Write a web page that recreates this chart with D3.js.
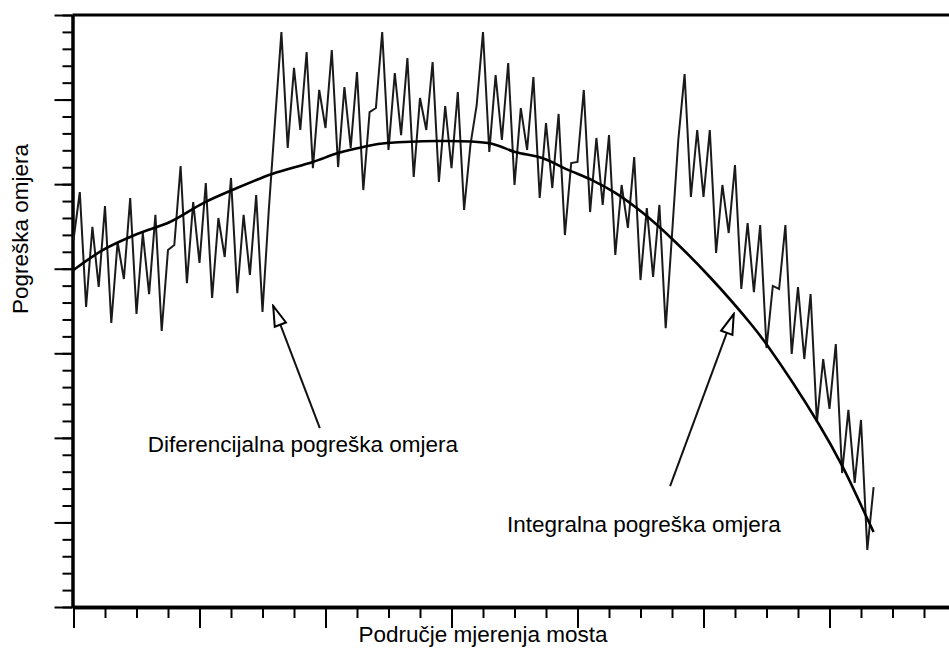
<!DOCTYPE html>
<html>
<head>
<meta charset="utf-8">
<script src="https://cdn.jsdelivr.net/npm/d3@7"></script>
<style>
  html, body { margin: 0; padding: 0; background: #fff; }
  svg { display: block; }
  text { font-family: "Liberation Sans", Arial, sans-serif; fill: #000; }
</style>
</head>
<body>
<svg id="chart" width="949" height="648"></svg>
<script>
// Differential ratio error (sample index 0..127)
const diffValues = [
  21.70, 24.53, 17.74, 22.47, 18.92, 23.71, 16.79, 21.58, 19.39, 24.18,
  17.32, 22.11, 18.50, 23.18, 16.32, 21.11, 21.40, 26.07, 19.15, 23.94,
  20.34, 25.07, 18.27, 23.00, 20.69, 25.36, 18.56, 23.18, 19.63, 24.36,
  17.44, 23.47, 28.79, 33.99, 27.14, 31.87, 28.20, 32.81, 25.95, 30.57,
  28.32, 32.93, 26.01, 30.74, 27.14, 31.63, 24.65, 29.26, 29.50, 33.99,
  27.02, 31.57, 27.90, 32.46, 25.42, 30.09, 28.20, 32.22, 25.13, 29.62,
  25.95, 30.45, 23.47, 27.31, 29.68, 33.99, 26.90, 31.45, 27.61, 32.16,
  24.95, 29.50, 27.02, 31.33, 24.18, 28.61, 24.77, 29.15, 21.99, 26.25,
  26.31, 30.57, 23.35, 27.73, 23.77, 27.90, 20.81, 24.95, 22.41, 26.60,
  19.33, 23.59, 19.51, 23.77, 16.49, 21.99, 27.61, 31.51, 24.24, 28.20,
  24.24, 28.20, 20.93, 24.95, 22.11, 26.13, 18.80, 22.70, 18.62, 22.58,
  15.31, 18.98, 18.80, 22.58, 14.96, 18.92, 14.66, 18.50, 10.94, 14.66,
  11.71, 15.55, 7.92, 11.65, 7.33, 11.06, 3.37, 7.09
];

// Integral ratio error (smooth curve)
const integX = [0, 4.7, 10.1, 15.3, 20.6, 25.2, 31.5, 38.0, 42.0, 46.0, 49.8, 65.8,
                70.1, 74.4, 78.5, 82.3, 86.0, 90.4, 95.2, 101.0, 107.4, 110.2,
                118.2, 122.1, 126.1, 127.0];
const integY = [19.92, 21.11, 22.05, 22.76, 23.88, 24.65, 25.60, 26.31, 26.84, 27.20,
                27.43, 27.43, 26.90, 26.54, 25.84, 25.24, 24.48, 23.29, 21.70, 19.51,
                16.79, 15.43, 10.88, 8.28, 5.14, 4.43];

const xLabel = "Područje mjerenja mosta";
const yLabel = "Pogreška omjera";
const annoTexts = ["Diferencijalna pogreška omjera", "Integralna pogreška omjera"];
const annoTextX = [11.8, 68.8];
const annoTextY = [9.16, 4.43];
const arrowFromX = [39.1, 94.7];
const arrowFromY = [10.58, 7.15];
const arrowToX = [31.7, 104.8];
const arrowToY = [17.80, 17.32];

const xMinorTicks = d3.range(0, 141, 5);
const xMajorTicks = d3.range(0, 141, 20);
const yMinorTicks = d3.range(0, 36, 1);
const yMajorTicks = d3.range(0, 36, 5);

const svg = d3.select("#chart");
const x = d3.scaleLinear().domain([0, 140]).range([73.5, 73.5 + 140 * 6.3]);
const y = d3.scaleLinear().domain([0, 35]).range([607, 15]);

// marker
const defs = svg.append("defs");
defs.append("marker")
  .attr("id", "openArrow")
  .attr("markerUnits", "userSpaceOnUse")
  .attr("viewBox", "-2 -8 24 16")
  .attr("markerWidth", 24).attr("markerHeight", 16)
  .attr("refX", 20).attr("refY", 0)
  .attr("orient", "auto")
  .append("path")
  .attr("d", "M0,-6 L20,0 L0,6 Z")
  .attr("fill", "#fff").attr("stroke", "#000").attr("stroke-width", 2)
  .attr("stroke-linejoin", "miter");

// top frame line
svg.append("line")
  .attr("x1", x(0) - 1).attr("x2", 949)
  .attr("y1", y(35)).attr("y2", y(35))
  .attr("stroke", "#000").attr("stroke-width", 3);

// axes
function styleAxis(g, w) {
  g.selectAll(".domain").attr("stroke", "#000").attr("stroke-width", w);
  g.selectAll(".tick line").attr("stroke", "#000").attr("stroke-width", 2);
  g.selectAll(".tick text").remove();
}
const gyMinor = svg.append("g").attr("transform", `translate(${x(0) - 1},0)`)
  .call(d3.axisLeft(y).tickValues(yMinorTicks).tickSize(10).tickSizeOuter(0).tickFormat(""));
styleAxis(gyMinor, 3);
const gyMajor = svg.append("g").attr("transform", `translate(${x(0) - 1},0)`)
  .call(d3.axisLeft(y).tickValues(yMajorTicks).tickSize(18).tickSizeOuter(0).tickFormat(""));
styleAxis(gyMajor, 3);
const gxMinor = svg.append("g").attr("transform", `translate(0,${y(0)})`)
  .call(d3.axisBottom(x).tickValues(xMinorTicks).tickSize(11).tickSizeOuter(0).tickFormat(""));
styleAxis(gxMinor, 3.5);
const gxMajor = svg.append("g").attr("transform", `translate(0,${y(0)})`)
  .call(d3.axisBottom(x).tickValues(xMajorTicks).tickSize(21).tickSizeOuter(0).tickFormat(""));
styleAxis(gxMajor, 3.5);

// differential line
svg.append("path")
  .datum(diffValues)
  .attr("fill", "none").attr("stroke", "#1a1a1a").attr("stroke-width", 2)
  .attr("stroke-linejoin", "miter")
  .attr("d", d3.line().x((d, i) => x(i)).y(d => y(d)));

// integral curve
svg.append("path")
  .datum(integX.map((v, i) => [v, integY[i]]))
  .attr("fill", "none").attr("stroke", "#000").attr("stroke-width", 2.6)
  .attr("d", d3.line().x(d => x(d[0])).y(d => y(d[1])).curve(d3.curveCatmullRom.alpha(0.5)));

// arrows
arrowFromX.forEach((fx, i) => {
  svg.append("line")
    .attr("x1", x(fx)).attr("y1", y(arrowFromY[i]))
    .attr("x2", x(arrowToX[i])).attr("y2", y(arrowToY[i]))
    .attr("stroke", "#111").attr("stroke-width", 2)
    .attr("marker-end", "url(#openArrow)");
});

// annotation texts
annoTexts.forEach((t, i) => {
  svg.append("text")
    .attr("x", x(annoTextX[i])).attr("y", y(annoTextY[i]))
    .attr("font-size", 22.5)
    .text(t);
});

// axis labels
svg.append("text")
  .attr("x", 483).attr("y", 642)
  .attr("text-anchor", "middle").attr("font-size", 22.5)
  .text(xLabel);
svg.append("text")
  .attr("transform", "translate(28,229) rotate(-90)")
  .attr("text-anchor", "middle").attr("font-size", 22.5)
  .text(yLabel);
</script>
</body>
</html>
